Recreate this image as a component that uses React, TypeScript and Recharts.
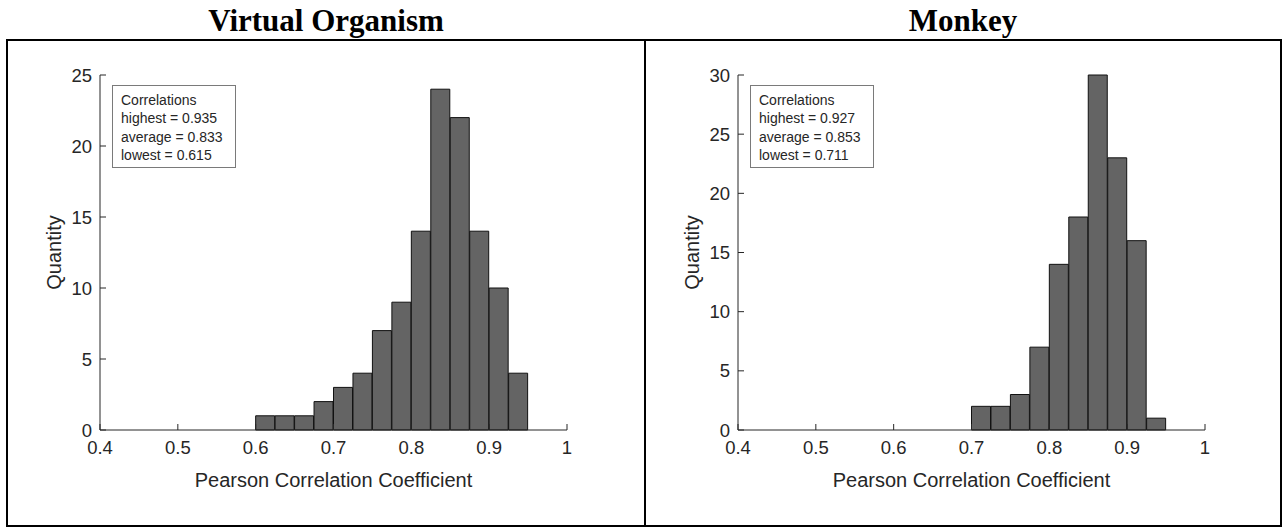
import { Bar, BarChart, Label, XAxis, YAxis } from "recharts";

// bin centres (bin width 0.025) and counts
const organismBins = [
  0.6125, 0.6375, 0.6625, 0.6875, 0.7125, 0.7375, 0.7625, 0.7875, 0.8125, 0.8375, 0.8625, 0.8875,
  0.9125, 0.9375,
];
const organismCounts = [1, 1, 1, 2, 3, 4, 7, 9, 14, 24, 22, 14, 10, 4];

const monkeyBins = [0.7125, 0.7375, 0.7625, 0.7875, 0.8125, 0.8375, 0.8625, 0.8875, 0.9125, 0.9375];
const monkeyCounts = [2, 2, 3, 7, 14, 18, 30, 23, 16, 1];

const xTicks = [0.4, 0.5, 0.6, 0.7, 0.8, 0.9, 1];
const organismYTicks = [0, 5, 10, 15, 20, 25];
const monkeyYTicks = [0, 5, 10, 15, 20, 25, 30];

const organismStats = ["Correlations", "highest = 0.935", "average = 0.833", "lowest = 0.615"];
const monkeyStats = ["Correlations", "highest = 0.927", "average = 0.853", "lowest = 0.711"];

const AXIS = "#262626";
const SANS = "'Liberation Sans', Arial, Helvetica, sans-serif";

type HistProps = {
  left: number;
  bins: number[];
  counts: number[];
  yTicks: number[];
  stats: string[];
};

function Histogram({ left, bins, counts, yTicks, stats }: HistProps) {
  const data = bins.map((x, i) => ({ x, count: counts[i] }));
  const yMax = yTicks[yTicks.length - 1];
  const tickStyle = { fill: AXIS, fontSize: 18.5, fontFamily: SANS };

  return (
    <div style={{ position: "absolute", left, top: 41 }}>
      <BarChart
        width={638}
        height={484}
        data={data}
        barCategoryGap={0}
        barGap={0}
        margin={{ top: 34, right: 78, bottom: 35, left: 0 }}
      >
        <XAxis
          dataKey="x"
          type="number"
          domain={[0.4, 1]}
          ticks={xTicks}
          interval={0}
          stroke={AXIS}
          tickSize={-6}
          tickMargin={17}
          tick={tickStyle}
          height={60}
        >
          <Label
            value="Pearson Correlation Coefficient"
            position="insideBottom"
            offset={3}
            style={{ fill: AXIS, fontSize: 20, fontFamily: SANS }}
          />
        </XAxis>
        <YAxis
          type="number"
          domain={[0, yMax]}
          ticks={yTicks}
          interval={0}
          stroke={AXIS}
          tickSize={-6}
          tickMargin={14}
          tick={tickStyle}
          width={93}
        >
          <Label
            value="Quantity"
            angle={-90}
            position="insideLeft"
            offset={47}
            style={{ fill: AXIS, fontSize: 20, fontFamily: SANS, textAnchor: "middle" }}
          />
        </YAxis>
        <Bar dataKey="count" fill="#646464" stroke="#111111" strokeWidth={1} isAnimationActive={false} />
      </BarChart>

      <div
        style={{
          position: "absolute",
          left: 105,
          top: 44,
          width: 124,
          height: 83,
          border: "1.5px solid #7a7a7a",
          background: "#fff",
          padding: "5px 0 0 8px",
          boxSizing: "border-box",
          fontFamily: SANS,
          fontSize: 14,
          lineHeight: "18.3px",
          color: AXIS,
          whiteSpace: "nowrap",
        }}
      >
        {stats.map((s) => (
          <div key={s}>{s}</div>
        ))}
      </div>
    </div>
  );
}

const titleStyle = {
  position: "absolute" as const,
  top: 3,
  textAlign: "center" as const,
  fontFamily: "'Liberation Serif', 'Times New Roman', serif",
  fontWeight: 700,
  fontSize: 31,
  color: "#000",
};

export default function App() {
  return (
    <div style={{ position: "absolute", left: 0, top: 0, width: 1283, height: 529, background: "#fff" }}>
      <div style={{ ...titleStyle, left: 7, width: 638 }}>Virtual Organism</div>
      <div style={{ ...titleStyle, left: 645, width: 636 }}>Monkey</div>

      <div
        style={{
          position: "absolute",
          left: 6,
          top: 39,
          width: 1276,
          height: 488,
          border: "2px solid #000",
          boxSizing: "border-box",
        }}
      />
      <div style={{ position: "absolute", left: 644, top: 39, width: 2, height: 488, background: "#000" }} />

      <Histogram left={7} bins={organismBins} counts={organismCounts} yTicks={organismYTicks} stats={organismStats} />
      <Histogram left={645} bins={monkeyBins} counts={monkeyCounts} yTicks={monkeyYTicks} stats={monkeyStats} />
    </div>
  );
}
